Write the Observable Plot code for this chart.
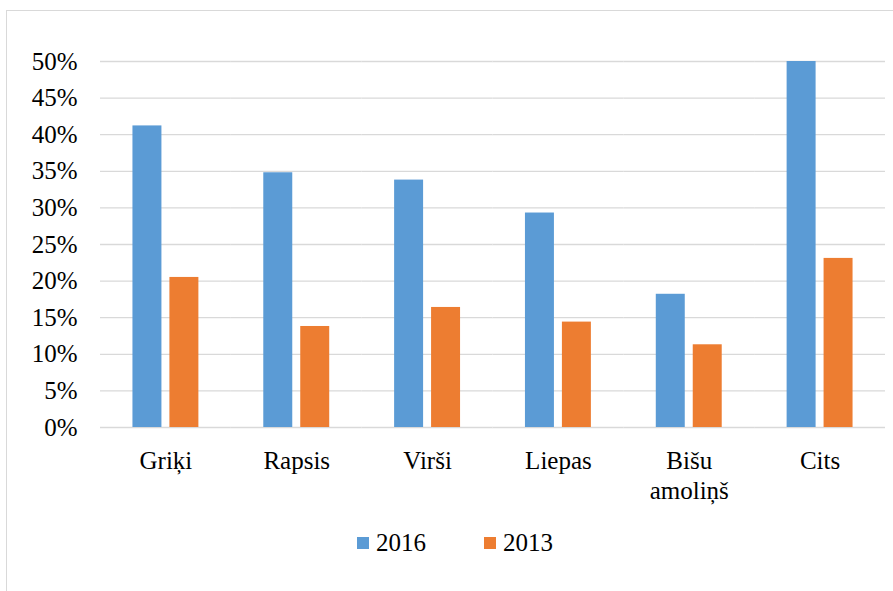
<!DOCTYPE html>
<html>
<head>
<meta charset="utf-8">
<script src="https://cdn.jsdelivr.net/npm/d3@7"></script>
<script src="https://cdn.jsdelivr.net/npm/@observablehq/plot@0.6"></script>
<style>
  html, body { margin: 0; padding: 0; background: #fff; overflow: hidden; width: 893px; height: 591px; }
  #frame { position: absolute; left: 6px; top: 10px; width: 1000px; height: 1000px; border: 1px solid #d9d9d9; box-sizing: border-box; }
  #chart { position: absolute; left: 0; top: 0; }
  #chart svg text { font-family: "Liberation Serif", "Times New Roman", serif; }
  .lg-sq { position: absolute; width: 12px; height: 12px; }
  .lg-tx { position: absolute; font-family: "Liberation Serif", "Times New Roman", serif; font-size: 25px; line-height: 25px; color: #000; white-space: nowrap; }
</style>
</head>
<body>
<div id="frame"></div>
<div id="chart"></div>
<div id="legend"></div>
<script>
const categories = ["Griķi", "Rapsis", "Virši", "Liepas", "Bišu\namoliņš", "Cits"];
const series = ["2016", "2013"];
const values2016 = [41.2, 34.8, 33.8, 29.3, 18.2, 50.0];
const values2013 = [20.5, 13.8, 16.4, 14.4, 11.3, 23.1];
const yTicks = [0, 5, 10, 15, 20, 25, 30, 35, 40, 45, 50];
const colors = ["#5B9BD5", "#ED7D31"];

const rows = categories.flatMap((c, i) => [
  {cat: c, series: series[0], value: values2016[i]},
  {cat: c, series: series[1], value: values2013[i]}
]);

const chart = Plot.plot({
  width: 893,
  height: 510,
  marginLeft: 100,
  marginRight: 8,
  marginTop: 61,
  marginBottom: 83,
  style: {fontFamily: "Liberation Serif, serif", fontSize: "25px", color: "#000", background: "transparent"},
  fx: {domain: categories, padding: 0, round: false, label: null},
  x: {domain: series, paddingInner: 0.216, paddingOuter: 0.878, round: false, axis: null},
  y: {domain: [0, 50], label: null},
  color: {domain: series, range: colors},
  marks: [
    Plot.gridY(yTicks, {stroke: "#d9d9d9", strokeOpacity: 1, strokeWidth: 1.3}),
    Plot.barY(rows, {fx: "cat", x: "series", y: "value", fill: "series"}),
    Plot.axisY(yTicks, {tickSize: 0, tickPadding: 23, tickFormat: d => d + "%", label: null, fill: "#000"}),
    Plot.axisFx({anchor: "bottom", tickSize: 0, tickPadding: 20, lineHeight: 1.2, label: null, fill: "#000"})
  ]
});
document.getElementById("chart").appendChild(chart);

const legend = document.getElementById("legend");
const lgX = [357, 484];
series.forEach((s, i) => {
  const sq = document.createElement("div");
  sq.className = "lg-sq";
  sq.style.left = lgX[i] + "px";
  sq.style.top = "537px";
  sq.style.background = colors[i];
  legend.appendChild(sq);
  const tx = document.createElement("div");
  tx.className = "lg-tx";
  tx.style.left = (lgX[i] + 19) + "px";
  tx.style.top = "530px";
  tx.textContent = s;
  legend.appendChild(tx);
});
</script>
</body>
</html>
